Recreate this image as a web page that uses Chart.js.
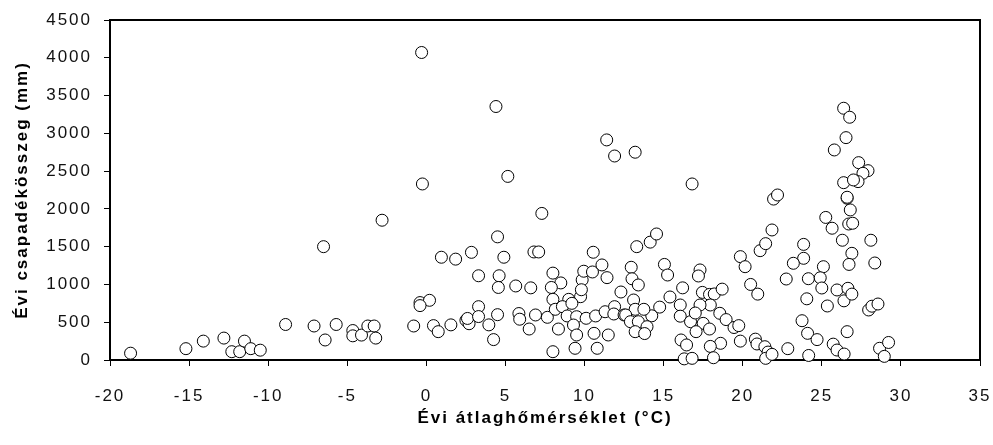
<!DOCTYPE html>
<html>
<head>
<meta charset="utf-8">
<script src="https://cdn.jsdelivr.net/npm/chart.js@4"></script>
<style>
html,body{margin:0;padding:0;background:#fff;}
#wrap{width:993px;height:445px;}
</style>
</head>
<body>
<div id="wrap"><canvas id="c" width="993" height="445"></canvas></div>
<script>
const xTitle = "Évi átlaghőmérséklet (°C)";
const yTitle = "Évi csapadékösszeg (mm)";
const xTicks = [-20, -15, -10, -5, 0, 5, 10, 15, 20, 25, 30, 35];
const yTicks = [0, 500, 1000, 1500, 2000, 2500, 3000, 3500, 4000, 4500];

const temperature = [
-18.7,-15.2,-14.1,-12.8,-12.3,-11.8,-11.5,-11.1,-10.5,-8.9,
-7.1,-6.4,-6.5,-5.7,-4.65,-4.65,-4.1,-3.7,-3.3,-3.2,
-2.8,-0.3,-0.25,-0.4,0.2,-0.4,-0.8,0.45,0.75,1.55,
0.95,1.85,2.85,2.5,2.7,2.6,3.3,3.3,3.3,3.95,
4.25,4.5,4.4,4.5,4.6,4.55,4.9,5.15,5.65,5.85,
5.9,6.5,6.6,6.8,7.1,6.9,7.3,7.65,8.0,8.5,
7.9,8.0,9.0,9.75,9.85,9.95,10.5,10.55,11.1,11.42,
12.3,8.15,8.6,8.9,9.2,9.5,10.1,10.7,11.3,11.9,
11.85,12.5,8.35,9.3,9.5,10.6,11.5,8.0,9.4,10.8,
11.4,11.9,13.2,13.3,14.15,14.55,12.95,13.0,13.4,15.05,
15.25,16.2,15.4,17.3,17.2,17.45,17.9,18.2,18.7,17.95,
17.3,16.05,16.05,14.75,14.25,13.1,13.2,13.75,12.6,12.9,
13.4,13.95,13.2,13.8,16.7,17.0,17.5,17.9,17.05,18.55,
18.95,19.45,19.75,19.85,18.6,17.95,18.15,16.1,16.45,16.3,
16.8,16.8,19.85,20.15,20.5,20.95,20.8,20.9,21.4,21.6,
21.45,21.85,22.85,21.1,21.45,21.85,21.95,22.2,23.85,23.85,
23.2,22.75,24.15,25.1,24.9,25.0,24.05,25.35,25.25,25.65,
26.6,26.8,26.7,26.95,26.3,26.9,26.72,28.1,28.35,25.96,
26.65,26.4,26.9,26.6,27.96,28.17,28.55,23.75,24.1,24.7,
25.72,25.96,26.41,24.17,28.65,29.22,28.95,26.38,26.76,26.53,
25.79,27.33,27.92,27.6,27.29,26.38,27.0,26.6,9.8
];
const precipitation = [
90,150,250,290,110,110,250,150,130,470,
450,265,1500,470,390,320,330,450,450,290,
1850,4070,2330,760,790,720,450,455,375,465,
1360,1335,1425,525,480,550,1115,706,575,465,
270,600,3355,1630,1115,960,1360,2430,980,615,
540,410,955,1430,1430,596,1940,565,1150,1020,
960,803,803,838,1060,1175,1165,1426,1258,1090,
900,671,706,583,750,573,552,583,639,706,
609,596,410,463,331,353,331,110,155,155,
2913,2700,2750,1500,1560,1668,1227,1075,993,1265,
1125,955,834,1192,1112,895,868,874,938,728,
728,728,580,700,585,794,671,671,596,507,
507,441,375,350,507,622,485,410,375,618,
535,430,455,250,221,180,30,265,199,15,
22,2330,1368,1235,1000,872,276,212,176,105,
22,75,150,1447,1540,1721,2130,2184,1530,1346,
1280,1072,1076,1235,1088,953,810,715,1887,1744,
2141,1986,1800,1810,1585,1412,1265,1585,1284,927,
949,783,872,375,662,712,741,520,353,270,
210,132,79,60,155,232,48,3332,3213,2943,
2780,2612,2506,2471,2361,2347,2383,2154,930
];

const points = temperature.map((t, i) => ({x: t, y: precipitation[i]}));

const spacingPlugin = {
  id: 'spacing',
  beforeInit(chart) { chart.ctx.letterSpacing = '2px'; },
  beforeUpdate(chart) { chart.ctx.letterSpacing = '2px'; },
  beforeDraw(chart) { chart.ctx.letterSpacing = '2px'; }
};

const framePlugin = {
  id: 'frame',
  afterDraw(chart) {
    const {ctx, chartArea: a} = chart;
    ctx.save();
    ctx.strokeStyle = '#000';
    ctx.lineWidth = 2;
    ctx.beginPath();
    ctx.moveTo(a.left, a.top);
    ctx.lineTo(a.right, a.top);
    ctx.lineTo(a.right, a.bottom);
    ctx.stroke();
    ctx.restore();
  }
};

const tickFont = {family: '"Liberation Sans", Arial, sans-serif', size: 17};
const titleFont = {family: '"Liberation Sans", Arial, sans-serif', size: 17, weight: 'bold'};

new Chart(document.getElementById('c'), {
  type: 'scatter',
  data: {
    datasets: [{
      data: points,
      pointRadius: 6,
      pointHoverRadius: 6,
      pointBackgroundColor: '#fff',
      pointBorderColor: '#000',
      pointBorderWidth: 1,
      clip: false
    }]
  },
  options: {
    responsive: false,
    animation: false,
    events: [],
    layout: {padding: {left: 0, top: 20, right: 13, bottom: 0}},
    plugins: {legend: {display: false}, tooltip: {enabled: false}},
    scales: {
      x: {
        type: 'linear',
        min: xTicks[0], max: xTicks[xTicks.length - 1],
        afterBuildTicks: s => { s.ticks = xTicks.map(v => ({value: v})); },
        afterFit: s => { s.height = 85; s.paddingLeft = 0; s.paddingRight = 0; },
        grid: {display: true, drawOnChartArea: false, drawTicks: true, tickLength: 6, color: '#000', lineWidth: 1},
        border: {display: true, color: '#000', width: 2},
        ticks: {color: '#111', font: tickFont, padding: 20, maxRotation: 0, autoSkip: false,
                callback: v => String(v)},
        title: {display: true, text: xTitle, color: '#000', font: titleFont, padding: {top: 0, bottom: 16}}
      },
      y: {
        type: 'linear',
        min: yTicks[0], max: yTicks[yTicks.length - 1],
        afterBuildTicks: s => { s.ticks = yTicks.map(v => ({value: v})); },
        afterFit: s => { s.width = 110; s.paddingTop = 0; s.paddingBottom = 0; },
        grid: {display: true, drawOnChartArea: false, drawTicks: true, tickLength: 6, color: '#000', lineWidth: 1},
        border: {display: true, color: '#000', width: 2},
        ticks: {color: '#111', font: tickFont, padding: 12, autoSkip: false,
                callback: v => String(v)},
        title: {display: true, text: yTitle, color: '#000', font: titleFont, padding: {top: 12, bottom: 0}}
      }
    }
  },
  plugins: [spacingPlugin, framePlugin]
});
</script>
</body>
</html>
